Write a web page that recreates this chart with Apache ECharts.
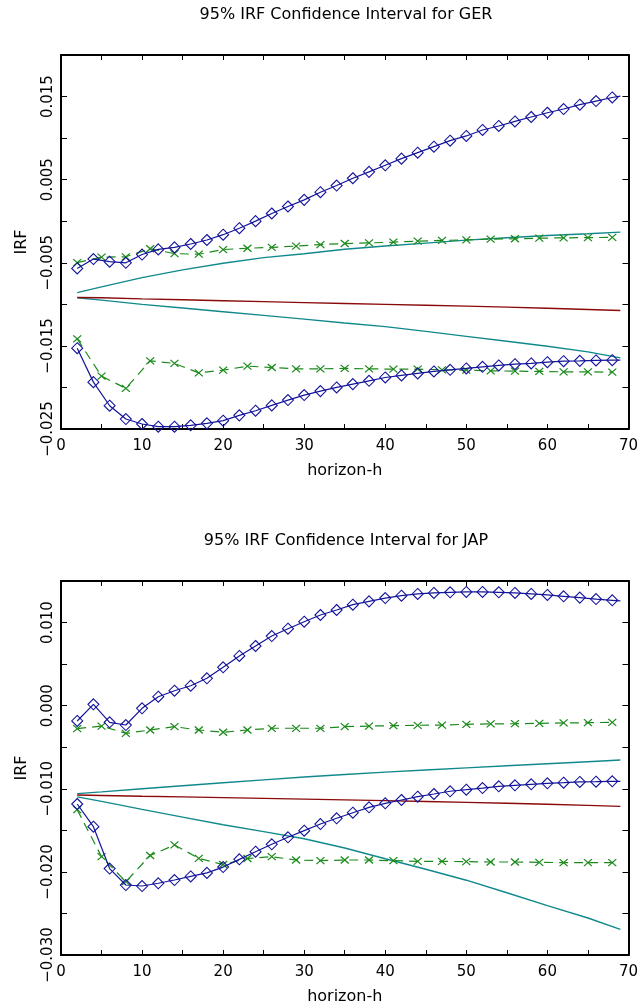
<!DOCTYPE html>
<html>
<head>
<meta charset="utf-8">
<script src="https://cdn.jsdelivr.net/npm/echarts@6/dist/echarts.min.js"></script>
<style>
  html, body { margin: 0; padding: 0; background: #fff; }
  #chart { width: 641px; height: 1008px; }
</style>
</head>
<body>
<div id="chart"></div>
<script>
// horizons: diamonds every 2 steps (last point 69 has no marker), crosses every 3
const hDiamond = [2, 4, 6, 8, 10, 12, 14, 16, 18, 20, 22, 24, 26, 28, 30, 32, 34, 36, 38, 40,
  42, 44, 46, 48, 50, 52, 54, 56, 58, 60, 62, 64, 66, 68, 69]
const hCross = [2, 5, 8, 11, 14, 17, 20, 23, 26, 29, 32, 35, 38, 41, 44, 47, 50, 53, 56, 59, 62, 65, 68]
const hCurve = [2, 5, 10, 15, 20, 25, 30, 35, 40, 45, 50, 55, 60, 65, 69]

// GER
const gerUpBlue = [-0.00568, -0.00455, -0.00487, -0.00500, -0.00401, -0.00339, -0.00315, -0.00274, -0.00226, -0.00162,
  -0.00084, 0.00001, 0.00093, 0.00177, 0.00257, 0.00349, 0.00429, 0.00517, 0.00594, 0.00673,
  0.00753, 0.00825, 0.00897, 0.00969, 0.01026, 0.01098, 0.01146, 0.01201, 0.01254, 0.01305,
  0.01350, 0.01402, 0.01446, 0.01489, 0.01506]
const gerLoBlue = [-0.01528, -0.01936, -0.02220, -0.02380, -0.02440, -0.02472, -0.02472, -0.02456, -0.02432, -0.02400,
  -0.02336, -0.02280, -0.02216, -0.02152, -0.02092, -0.02044, -0.02000, -0.01960, -0.01920, -0.01880,
  -0.01855, -0.01831, -0.01807, -0.01788, -0.01771, -0.01752, -0.01735, -0.01720, -0.01711, -0.01696,
  -0.01684, -0.01680, -0.01675, -0.01672, -0.01672]
const gerUpGreen = [-0.00498, -0.00432, -0.00428, -0.00331, -0.00390, -0.00397, -0.00341, -0.00325, -0.00315, -0.00299,
  -0.00281, -0.00268, -0.00261, -0.00252, -0.00240, -0.00231, -0.00225, -0.00215, -0.00211, -0.00204,
  -0.00200, -0.00197, -0.00194]
const gerLoGreen = [-0.01416, -0.01864, -0.02011, -0.01680, -0.01711, -0.01824, -0.01792, -0.01744, -0.01760, -0.01776,
  -0.01776, -0.01771, -0.01776, -0.01780, -0.01780, -0.01788, -0.01792, -0.01800, -0.01804, -0.01807,
  -0.01812, -0.01812, -0.01816]
const gerUpTeal = [-0.00859, -0.00790, -0.00678, -0.00585, -0.00505, -0.00438, -0.00391, -0.00337, -0.00298, -0.00263,
  -0.00228, -0.00198, -0.00172, -0.00150, -0.00131]
const gerRed = [-0.00917, -0.00921, -0.00934, -0.00945, -0.00957, -0.00968, -0.00979, -0.00990, -0.01000, -0.01011,
  -0.01022, -0.01034, -0.01047, -0.01062, -0.01075]
const gerLoTeal = [-0.00921, -0.00950, -0.01000, -0.01044, -0.01089, -0.01133, -0.01178, -0.01225, -0.01268, -0.01325,
  -0.01385, -0.01444, -0.01505, -0.01572, -0.01644]

// JAP
const japUpBlue = [-0.00184, 0.00016, -0.00200, -0.00233, -0.00032, 0.00108, 0.00180, 0.00240, 0.00329, 0.00462,
  0.00598, 0.00718, 0.00838, 0.00926, 0.01010, 0.01091, 0.01151, 0.01215, 0.01255, 0.01295,
  0.01323, 0.01344, 0.01356, 0.01364, 0.01368, 0.01368, 0.01364, 0.01356, 0.01344, 0.01332,
  0.01316, 0.01300, 0.01283, 0.01268, 0.01260]
const japLoBlue = [-0.01183, -0.01456, -0.01960, -0.02158, -0.02170, -0.02137, -0.02098, -0.02055, -0.02012, -0.01942,
  -0.01849, -0.01757, -0.01668, -0.01584, -0.01504, -0.01424, -0.01355, -0.01288, -0.01223, -0.01175,
  -0.01135, -0.01095, -0.01063, -0.01030, -0.01011, -0.00991, -0.00970, -0.00958, -0.00946, -0.00934,
  -0.00927, -0.00918, -0.00915, -0.00910, -0.00910]
const japUpGreen = [-0.00277, -0.00245, -0.00333, -0.00293, -0.00253, -0.00293, -0.00320, -0.00293, -0.00272, -0.00272,
  -0.00272, -0.00253, -0.00245, -0.00241, -0.00236, -0.00233, -0.00224, -0.00220, -0.00217, -0.00212,
  -0.00208, -0.00205, -0.00200]
const japLoGreen = [-0.01251, -0.01817, -0.02118, -0.01803, -0.01676, -0.01837, -0.01911, -0.01839, -0.01817, -0.01857,
  -0.01865, -0.01857, -0.01857, -0.01865, -0.01873, -0.01873, -0.01877, -0.01881, -0.01881, -0.01885,
  -0.01889, -0.01889, -0.01889]
const japUpTeal = [-0.01058, -0.01037, -0.01000, -0.00964, -0.00928, -0.00893, -0.00858, -0.00828, -0.00800, -0.00774,
  -0.00748, -0.00723, -0.00698, -0.00674, -0.00654]
const japRed = [-0.01075, -0.01080, -0.01090, -0.01098, -0.01107, -0.01115, -0.01124, -0.01133, -0.01143, -0.01153,
  -0.01163, -0.01175, -0.01187, -0.01200, -0.01212]
const japLoTeal = [-0.01098, -0.01152, -0.01248, -0.01341, -0.01433, -0.01516, -0.01601, -0.01713, -0.01842, -0.01968,
  -0.02100, -0.02251, -0.02405, -0.02555, -0.02691]

const BLUE = '#14149a'
const GREEN = '#1b8a1b'
const TEAL = '#11898c'
const RED = '#8a0a0a'
const FONT = 'DejaVu Sans'

const diamond = 'path://M5,0L10,5L5,10L0,5Z'
const cross = 'path://M0,0L8,8M8,0L0,8'

const pairs = (xs, ys) => xs.map((x, i) => [x, ys[i]])

function xAxes (grid) {
  const common = {
    gridIndex: grid,
    type: 'value',
    min: 0,
    max: 70,
    interval: 5,
    splitLine: { show: false },
    axisLine: { show: true, onZero: false, lineStyle: { color: '#000', width: 2 } },
    axisTick: { show: true, inside: true, length: 5, lineStyle: { color: '#000', width: 1 } }
  }
  return [
    Object.assign({}, common, {
      position: 'bottom',
      name: 'horizon-h',
      nameLocation: 'middle',
      nameGap: 34,
      nameTextStyle: { fontFamily: FONT, fontSize: 16, color: '#000' },
      axisLabel: {
        margin: 10,
        fontFamily: FONT,
        fontSize: 15,
        color: '#000',
        formatter: v => (v % 10 === 0 ? String(v) : '')
      }
    }),
    Object.assign({}, common, { position: 'top', axisLabel: { show: false } })
  ]
}

function yAxes (grid, min, max, labelRem) {
  const common = {
    gridIndex: grid,
    type: 'value',
    min: min,
    max: max,
    interval: 0.005,
    splitLine: { show: false },
    axisLine: { show: true, onZero: false, lineStyle: { color: '#000', width: 2 } },
    axisTick: { show: true, inside: true, length: 6, lineStyle: { color: '#000', width: 1 } }
  }
  return [
    Object.assign({}, common, {
      position: 'left',
      name: 'IRF',
      nameLocation: 'middle',
      nameGap: 31,
      nameTextStyle: { fontFamily: FONT, fontSize: 16, color: '#000' },
      axisLabel: {
        rotate: 90,
        margin: 5,
        fontFamily: FONT,
        fontSize: 15,
        color: '#000',
        formatter: v => {
          const k = Math.abs(Math.round(v * 1000))
          if (k % 10 !== labelRem) return ''
          return v.toFixed(3).replace('-', '\u2212')
        }
      }
    }),
    Object.assign({}, common, { position: 'right', axisLabel: { show: false } })
  ]
}

function panelSeries (axisIdx, upBlue, loBlue, upGreen, loGreen, upTeal, red, loTeal) {
  const blue = data => ({
    type: 'line',
    xAxisIndex: axisIdx,
    yAxisIndex: axisIdx,
    data: pairs(hDiamond, data),
    symbol: v => (v[0] % 2 === 0 ? diamond : 'none'),
    symbolSize: 11,
    itemStyle: { color: 'rgba(0,0,0,0)', borderColor: BLUE, borderWidth: 1.1 },
    lineStyle: { color: BLUE, width: 1.2 },
    z: 5
  })
  const green = data => ({
    type: 'line',
    xAxisIndex: axisIdx,
    yAxisIndex: axisIdx,
    data: pairs(hCross, data),
    symbol: cross,
    symbolSize: [8, 7],
    itemStyle: { color: GREEN, borderColor: GREEN, borderWidth: 1.2 },
    lineStyle: { color: GREEN, width: 1.2, type: [9, 6] },
    z: 4
  })
  const curve = (data, color) => ({
    type: 'line',
    xAxisIndex: axisIdx,
    yAxisIndex: axisIdx,
    data: pairs(hCurve, data),
    symbol: 'none',
    lineStyle: { color: color, width: 1.4 },
    z: 3
  })
  return [
    curve(upTeal, TEAL), curve(loTeal, TEAL), curve(red, RED),
    green(upGreen), green(loGreen),
    blue(upBlue), blue(loBlue)
  ]
}

const chart = echarts.init(document.getElementById('chart'), null, { renderer: 'canvas' })

chart.setOption({
  animation: false,
  backgroundColor: '#fff',
  graphic: [
    { type: 'text', x: 346, y: 15, style: { text: '95% IRF Confidence Interval for GER', align: 'center', verticalAlign: 'middle', font: '16px "DejaVu Sans"', fill: '#000' } },
    { type: 'text', x: 346, y: 541, style: { text: '95% IRF Confidence Interval for JAP', align: 'center', verticalAlign: 'middle', font: '16px "DejaVu Sans"', fill: '#000' } }
  ],
  grid: [
    { left: 61, top: 55, width: 571, height: 374 },
    { left: 61, top: 581, width: 571, height: 374 }
  ],
  xAxis: [].concat(xAxes(0), xAxes(1)),
  yAxis: [].concat(yAxes(0, -0.025, 0.02, 5), yAxes(1, -0.03, 0.015, 0)),
  series: [].concat(
    panelSeries(0, gerUpBlue, gerLoBlue, gerUpGreen, gerLoGreen, gerUpTeal, gerRed, gerLoTeal),
    panelSeries(2, japUpBlue, japLoBlue, japUpGreen, japLoGreen, japUpTeal, japRed, japLoTeal)
  )
})
</script>
</body>
</html>
